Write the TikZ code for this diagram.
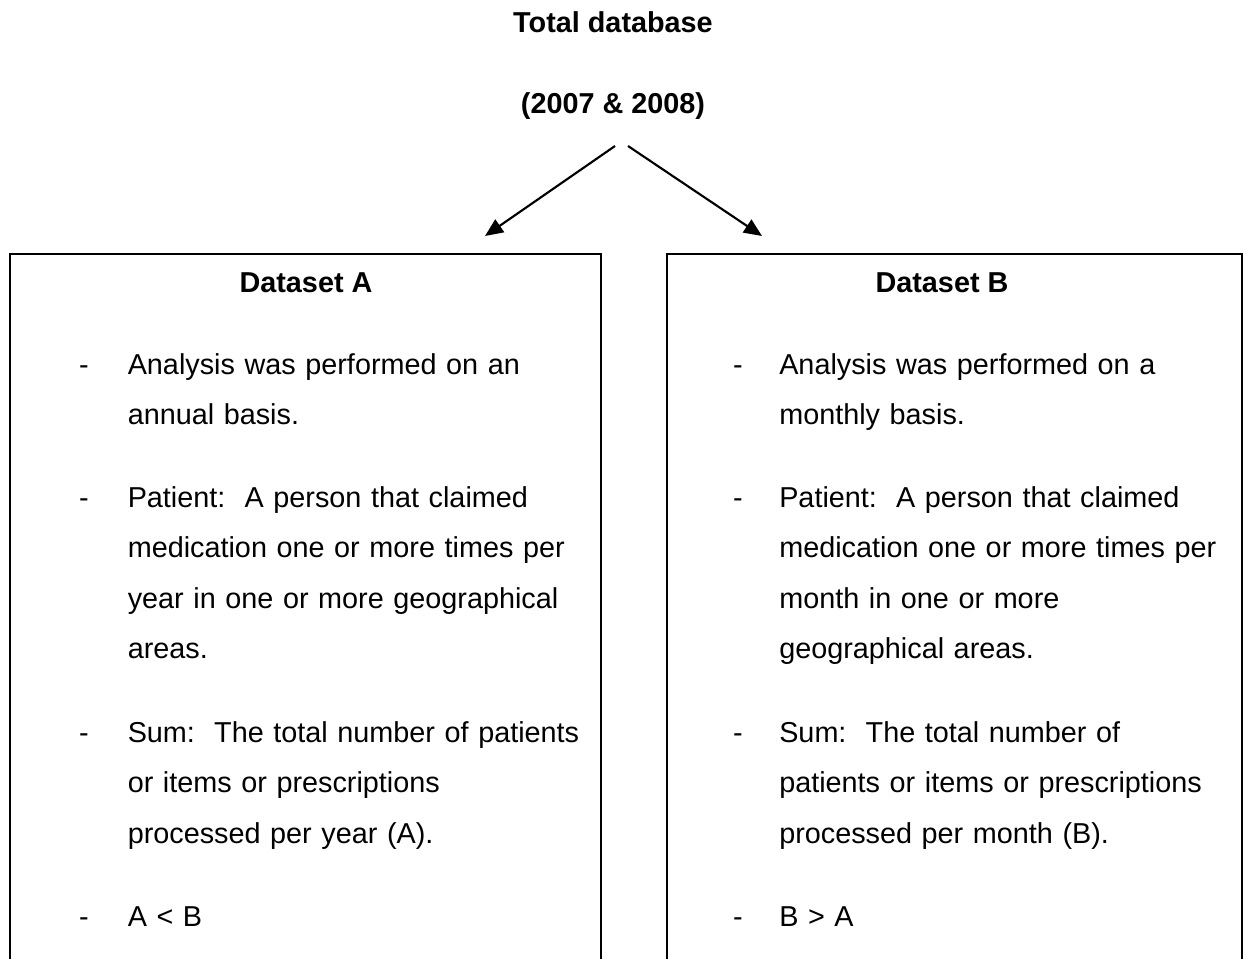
\documentclass[tikz,border=0pt]{standalone}
\usepackage{fontspec}
\setmainfont{Liberation Sans}
\usetikzlibrary{arrows.meta}
\frenchspacing
\newcommand{\bodysize}{\fontsize{21.6}{37.9}\selectfont}
\tikzset{
  heading/.style={font=\bfseries\bodysize, anchor=base, inner sep=0pt},
  body/.style={font=\bodysize, anchor=base west, inner sep=0pt,
    text width=362pt, align=left},
  hyph/.style={font=\bodysize, anchor=base, inner sep=0pt},
  frame/.style={line width=1.5pt, line cap=rect},
  link/.style={line width=1.6pt, -{Triangle[length=13.5pt,width=11.5pt]}}
}
\begin{document}
\begin{tikzpicture}[x=0.75pt, y=-0.75pt]
\useasboundingbox (0,0) rectangle (1245,958);

% title
\node[heading] (title) at (613,32) {Total database};
\node[heading] (years) at (613,113) {(2007 \& 2008)};

% arrows down to the two datasets
\coordinate (fromL) at (615,146);
\coordinate (fromR) at (628,146);
\coordinate (toL) at (485,236);
\coordinate (toR) at (762,236);
\draw[link] (fromL) -- (toL);
\draw[link] (fromR) -- (toR);

% open-bottomed frames
\draw[frame] (10,970) -- (10,254) -- (601,254) -- (601,970);
\draw[frame] (667,970) -- (667,254) -- (1242,254) -- (1242,970);

% dataset A
\node[heading] (hA) at (306,292) {Dataset A};
\node[hyph] (dA1) at (84,374) {-};
\node[body] (pA1) at (127.5,374) {Analysis was performed on an\\annual basis.};
\node[hyph] (dA2) at (84,507) {-};
\node[body] (pA2) at (127.5,507) {Patient:\ \ A person that claimed\\medication one or more times per\\year in one or more geographical\\areas.};
\node[hyph] (dA3) at (84,742) {-};
\node[body] (pA3) at (127.5,742) {Sum:\ \ The total number of patients\\or items or prescriptions\\processed per year (A).};
\node[hyph] (dA4) at (84,926.5) {-};
\node[body] (pA4) at (127.5,926.5) {A < B};

% dataset B
\node[heading] (hB) at (942,292) {Dataset B};
\node[hyph] (dB1) at (738,374) {-};
\node[body] (pB1) at (779,374) {Analysis was performed on a\\monthly basis.};
\node[hyph] (dB2) at (738,507) {-};
\node[body] (pB2) at (779,507) {Patient:\ \ A person that claimed\\medication one or more times per\\month in one or more\\geographical areas.};
\node[hyph] (dB3) at (738,742) {-};
\node[body] (pB3) at (779,742) {Sum:\ \ The total number of\\patients or items or prescriptions\\processed per month (B).};
\node[hyph] (dB4) at (738,926.5) {-};
\node[body] (pB4) at (779,926.5) {B > A};
\end{tikzpicture}
\end{document}
